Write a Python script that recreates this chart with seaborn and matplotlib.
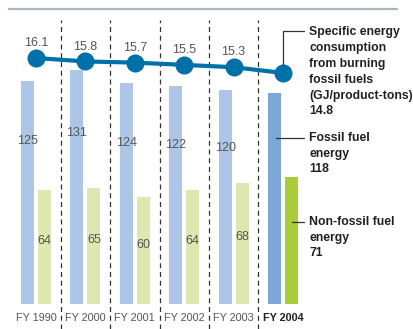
import numpy as np
import pandas as pd
import matplotlib
matplotlib.use("Agg")
import matplotlib.pyplot as plt
import seaborn as sns

# Fiscal years and energy figures
years = ["FY 1990", "FY 2000", "FY 2001", "FY 2002", "FY 2003", "FY 2004"]
fossil = [125, 131, 124, 122, 120, 118]
non_fossil = [64, 65, 60, 64, 68, 71]
specific = [16.1, 15.8, 15.7, 15.5, 15.3, 14.8]

sns.set_theme(style="white")
plt.rcParams["font.family"] = ["Liberation Sans", "DejaVu Sans"]

LIGHT_BLUE = "#adc5e6"
LIGHT_GREEN = "#dce8b0"
DARK_BLUE = "#7aa6d8"
BRIGHT_GREEN = "#a8cc3a"
LINE_BLUE = "#0070a8"
GREY_TEXT = "#555555"
DARK_TEXT = "#231f20"

fig = plt.figure(figsize=(4.13, 3.29), dpi=100)
ax = fig.add_axes([0, 0, 1, 1])

df = pd.DataFrame({
    "year": years * 2,
    "kind": ["Fossil"] * len(years) + ["Non-fossil"] * len(years),
    "value": fossil + non_fossil,
})
sns.barplot(data=df, x="year", y="value", hue="kind", order=years,
            palette=[LIGHT_BLUE, LIGHT_GREEN], width=0.688, gap=0.235,
            legend=False, ax=ax, saturation=1)

# Highlight the latest year
last = len(years) - 1
ax.containers[0].patches[last].set_facecolor(DARK_BLUE)
ax.containers[1].patches[last].set_facecolor(BRIGHT_GREEN)
for cont in ax.containers:
    for p in cont.patches:
        p.set_edgecolor("none")

# pixel-based limits: group spacing ~49.4 px, 1.784 px per unit, baseline 25 px up
ax.set_xlim(-36 / 49.4, (413 - 36) / 49.4)
ax.set_ylim(-25 / 1.784, (329 - 25) / 1.784)
ax.axis("off")

# Value labels inside the bars
off = 0.172
for i in range(last):
    ax.text(i - off, fossil[i] * 0.73, str(fossil[i]), ha="center", va="center",
            fontsize=9, color=GREY_TEXT)
    ax.text(i + off, non_fossil[i] * 0.55, str(non_fossil[i]), ha="center", va="center",
            fontsize=9, color=GREY_TEXT)

# Dashed separators between years
for i in range(last):
    ax.plot([i + 0.5, i + 0.5], [-25 / 1.784, (329 - 20 - 25) / 1.784],
            color="#333333", lw=0.9, ls=(0, (4, 3)), zorder=1)

# Year labels
for i, y in enumerate(years):
    ax.text(i, -14 / 1.784, y, ha="center", va="center", fontsize=7.8,
            color=DARK_TEXT if i == last else GREY_TEXT,
            fontweight="bold" if i == last else "normal")

# Top rule
fig.add_artist(plt.Line2D([9 / 413, 397 / 413], [1 - 8.7 / 329] * 2,
                          color="#a9b4bb", lw=1.6))

# Specific energy consumption line on its own scale
ax2 = ax.twinx()
ax2.set_ylim(16.1 - 271 / 11.5, 16.1 + 58 / 11.5)
ax2.set_xlim(ax.get_xlim())
ax2.axis("off")
sns.lineplot(x=np.arange(len(years)), y=specific, color=LINE_BLUE, lw=3,
             marker="o", markersize=13, markeredgewidth=0, ax=ax2, zorder=5)
for i in range(last):
    ax2.text(i, specific[i] + 1.3, f"{specific[i]:.1f}", ha="center", va="center",
             fontsize=9, color=GREY_TEXT)

# Annotations for the latest year
def px(x, y):
    return (x / 413, 1 - y / 329)

tx = 309
fs = 8.8
lines_spec = ["Specific energy", "consumption", "from burning", "fossil fuels",
              "(GJ/product-tons)", f"{specific[last]}"]
for k, s in enumerate(lines_spec):
    fig.text(*px(tx, 32 + k * 15.9), s, ha="left", va="center", fontsize=fs,
             color=DARK_TEXT, fontweight="bold")
fig.add_artist(plt.Line2D([283 / 413, 283 / 413, 304 / 413],
                          [1 - 66 / 329, 1 - 31 / 329, 1 - 31 / 329],
                          color="#333333", lw=0.9))

for k, s in enumerate(["Fossil fuel", "energy", f"{fossil[last]}"]):
    fig.text(*px(tx, 138 + k * 15.7), s, ha="left", va="center", fontsize=fs,
             color=DARK_TEXT, fontweight="bold")
fig.add_artist(plt.Line2D([276 / 413, 304 / 413], [1 - 138 / 329] * 2,
                          color="#333333", lw=0.9))

for k, s in enumerate(["Non-fossil fuel", "energy", f"{non_fossil[last]}"]):
    fig.text(*px(tx, 222 + k * 15.7), s, ha="left", va="center", fontsize=fs,
             color=DARK_TEXT, fontweight="bold")
fig.add_artist(plt.Line2D([292 / 413, 304 / 413], [1 - 222 / 329] * 2,
                          color="#333333", lw=0.9))

fig.savefig("out.png", dpi=100)
